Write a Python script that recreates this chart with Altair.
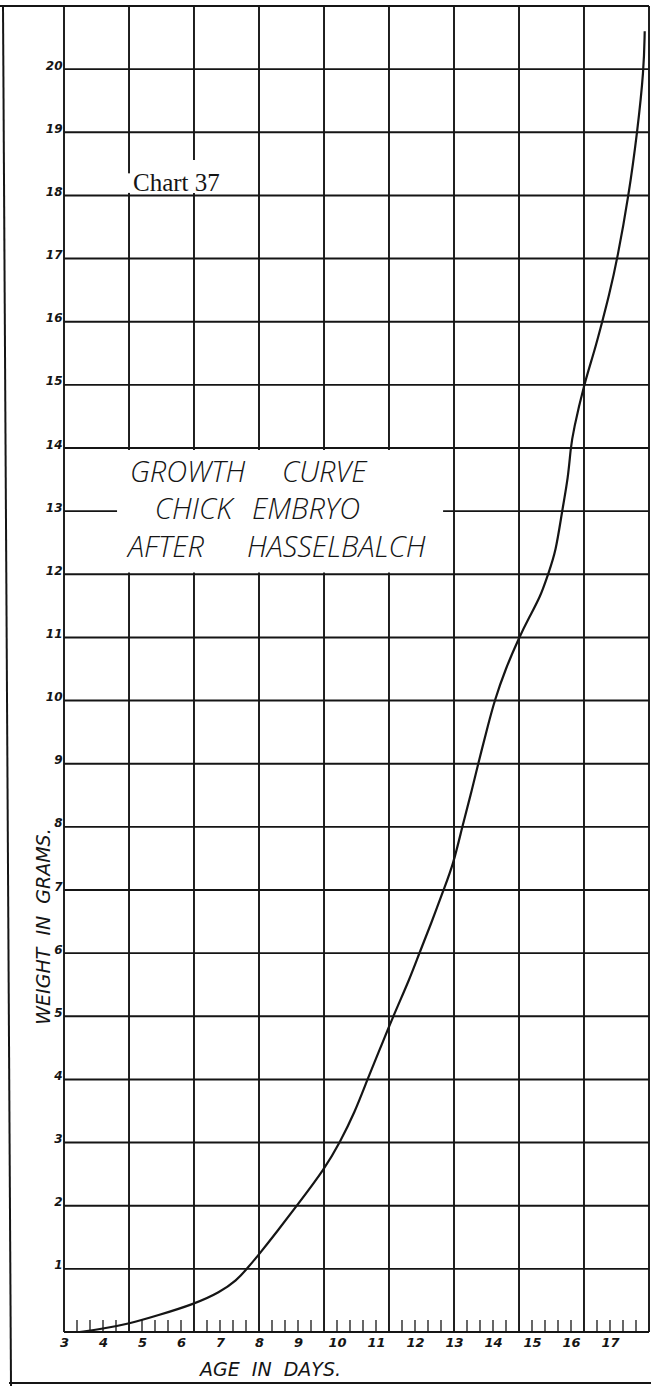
import altair as alt
import pandas as pd

# Growth of the chick embryo (after Hasselbalch): age in days vs. weight in grams
age_days = [3.40, 3.98, 4.67, 5.39, 6.33, 7.00, 7.43, 7.69, 8.00, 8.45,
            8.97, 9.69, 10.07, 10.45, 10.78, 11.10, 11.44, 11.87, 12.11, 12.41,
            12.73, 12.98, 13.21, 13.43, 13.62, 13.88, 14.04, 14.32, 14.67, 14.92,
            15.22, 15.41, 15.61, 15.77, 15.93, 15.99, 16.06, 16.33, 16.60, 16.80,
            16.97, 17.19, 17.48, 17.70, 17.87, 17.89]
weight_g = [0.00, 0.05, 0.13, 0.26, 0.44, 0.63, 0.82, 1.00, 1.23, 1.58,
            2.00, 2.59, 3.00, 3.47, 4.00, 4.48, 5.00, 5.60, 6.00, 6.46,
            7.00, 7.40, 8.00, 8.51, 9.00, 9.63, 10.00, 10.50, 11.00, 11.31,
            11.65, 12.00, 12.35, 13.00, 13.54, 14.00, 14.27, 15.00, 15.53, 16.00,
            16.40, 17.00, 18.00, 19.00, 20.00, 20.60]

# tick labels
day_labels = list(range(3, 18))
gram_labels = list(range(1, 21))

# graph-paper ruling: heavy lines every 5/3 day and every gram, small ticks every 1/3 day
paper_days = [3.0, 4.667, 6.333, 8.0, 9.667, 11.333, 13.0, 14.667, 16.333, 18.0]
paper_grams = list(range(0, 22))
small_ticks = [3 + i / 3 for i in range(1, 45) if i % 5 != 0]

INK = "#151515"
HAND = "DejaVu Sans"
NB = "\u00a0\u00a0"  # wide word gap in the hand lettering

# plot area geometry (pixels) and helpers to place page furniture in data units
PLOT_LEFT, PLOT_TOP, PLOT_W, PLOT_H = 64, 6, 585, 1326
X0, X1, Y0, Y1 = 3, 18, 0, 21


def px_to_day(px):
    return X0 + (px - PLOT_LEFT) * (X1 - X0) / PLOT_W


def px_to_gram(py):
    return Y0 + (PLOT_TOP + PLOT_H - py) * (Y1 - Y0) / PLOT_H


x_scale = alt.Scale(domain=[X0, X1], nice=False, zero=False)
y_scale = alt.Scale(domain=[Y0, Y1], nice=False, zero=False)

x_axis = alt.Axis(
    values=day_labels, grid=False, domain=False, ticks=False,
    labelFlush=False, labelOverlap=False, labelBound=False,
    labelPadding=4, labelFont=HAND, labelFontSize=13,
    labelFontStyle="italic", labelFontWeight="bold", labelColor=INK,
    title=f"AGE{NB}IN{NB}DAYS.", titleFont=HAND, titleFontSize=19,
    titleFontStyle="italic", titleFontWeight="normal", titleColor=INK,
    titleX=206, titleY=37, titleAlign="center", titleBaseline="middle",
)
y_axis = alt.Axis(
    values=gram_labels, grid=False, domain=False, ticks=False,
    labelOverlap=False, labelBound=False, labelFlush=False,
    labelPadding=2, labelAlign="right", labelBaseline="alphabetic",
    labelFont=HAND, labelFontSize=12, labelFontStyle="italic",
    labelFontWeight="bold", labelColor=INK,
    title=f"WEIGHT{NB}IN{NB}GRAMS.", titleFont=HAND, titleFontSize=19,
    titleFontStyle="italic", titleFontWeight="normal", titleColor=INK,
    titleAngle=270, titleX=-21, titleY=920,
    titleAlign="center", titleBaseline="middle",
)


def X(field):
    return alt.X(field, scale=x_scale, axis=x_axis)


def Y(field):
    return alt.Y(field, scale=y_scale, axis=y_axis)


curve_df = pd.DataFrame({"day": age_days, "grams": weight_g})
vgrid_df = pd.DataFrame({"day": paper_days})
hgrid_df = pd.DataFrame({"grams": paper_grams})
ticks_df = pd.DataFrame({"day": small_ticks, "lo": 0.0, "hi": 0.19})

vgrid = alt.Chart(vgrid_df).mark_rule(color=INK, strokeWidth=1.9).encode(x=X("day:Q"))
hgrid = alt.Chart(hgrid_df).mark_rule(color=INK, strokeWidth=1.9).encode(y=Y("grams:Q"))
ticks = alt.Chart(ticks_df).mark_rule(color=INK, strokeWidth=1.3).encode(
    x=X("day:Q"), y=Y("lo:Q"), y2="hi:Q"
)

# white paste-over panels for the labels
panels_df = pd.DataFrame({
    "x0": [4.36, 4.38, 5.00],
    "x1": [12.72, 5.00, 7.31],
    "y0": [12.03, 18.04, 18.04],
    "y1": [13.97, 18.35, 18.56],
})
panels = alt.Chart(panels_df).mark_rect(color="white").encode(
    x=X("x0:Q"), x2="x1:Q", y=Y("y0:Q"), y2="y1:Q"
)

curve = alt.Chart(curve_df).mark_line(
    color=INK, strokeWidth=2.2, interpolate="basis"
).encode(x=X("day:Q"), y=Y("grams:Q"))

# hand-lettered heading, one word at a time
heading_df = pd.DataFrame({
    "word": ["GROWTH", "CURVE", "CHICK", "EMBRYO", "AFTER", "HASSELBALCH"],
    "x": [4.69, 8.59, 5.33, 7.82, 4.64, 7.69],
    "y": [13.60, 13.60, 13.02, 13.02, 12.42, 12.42],
})
heading = alt.Chart(heading_df).mark_text(
    font="Open Sans", fontSize=29, fontStyle="italic", fontWeight=300,
    align="left", baseline="middle", color=INK,
).encode(x=X("x:Q"), y=Y("y:Q"), text="word:N")

chart_no_df = pd.DataFrame({"t": ["Chart 37"], "x": [px_to_day(133)], "y": [px_to_gram(191)]})
chart_no = alt.Chart(chart_no_df).mark_text(
    font="Liberation Serif", fontSize=25, align="left", baseline="alphabetic",
    color=INK,
).encode(x=X("x:Q"), y=Y("y:Q"), text="t:N")

# outer page frame: left edge, top edge continuation, bottom edge
frame_df = pd.DataFrame({
    "x0": [px_to_day(3), px_to_day(0), px_to_day(9)],
    "x1": [px_to_day(11), px_to_day(64), px_to_day(651)],
    "y0": [px_to_gram(6), px_to_gram(6), px_to_gram(1383)],
    "y1": [px_to_gram(1386), px_to_gram(6), px_to_gram(1383)],
})
frame = alt.Chart(frame_df).mark_rule(color=INK, strokeWidth=2.0).encode(
    x=X("x0:Q"), x2="x1:Q", y=Y("y0:Q"), y2="y1:Q"
)

chart = alt.layer(
    vgrid, hgrid, ticks, panels, curve, heading, chart_no, frame,
).properties(
    width=PLOT_W,
    height=PLOT_H,
    padding={"left": PLOT_LEFT, "top": PLOT_TOP, "right": 651 - PLOT_LEFT - PLOT_W,
             "bottom": 1386 - PLOT_TOP - PLOT_H},
    autosize=alt.AutoSizeParams(type="none"),
    background="white",
).configure_view(stroke=None)

chart.save("out.html", embed_options={"renderer": "svg", "actions": False})
